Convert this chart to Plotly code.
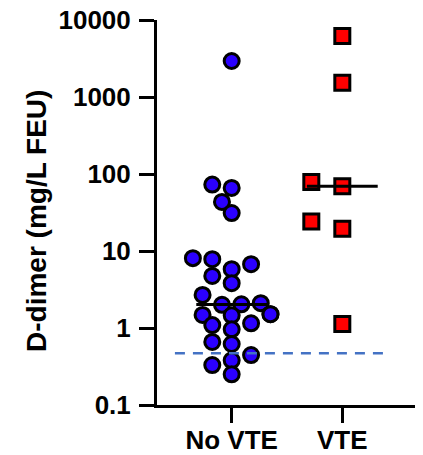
import numpy as np
import plotly.graph_objects as go

categories = ["No VTE", "VTE"]
no_vte = [2934, 72.8, 65.9, 43.4, 31.1, 8.08, 7.84, 6.75, 5.81, 4.75, 3.82, 2.69,
          2.1, 2.03, 2.0, 1.51, 1.51, 1.48, 1.46, 1.15, 1.09, 0.96, 0.66, 0.62,
          0.445, 0.38, 0.33, 0.25]
vte = [6210, 1535, 78.9, 69.2, 24.2, 19.5, 1.13]
cutoff = 0.47
ytick_vals = [0.1, 1, 10, 100, 1000, 10000]
ytick_text = ["0.1", "1", "10", "100", "1000", "10000"]
y_title = "D-dimer (mg/L FEU)"

W, H = 423, 455
ml, mr, mt, mb = 157, 8, 20, 50
xr = [-0.675, 1.657]
yr = [-1, 4]
px_x = (W - ml - mr) / (xr[1] - xr[0])
px_y = (H - mt - mb) / (yr[1] - yr[0])


def beeswarm(vals, center, step_px=9.7, min_px=14.0):
    order = np.argsort(vals)
    placed = []
    xs = np.zeros(len(vals))
    for i in order:
        y = np.log10(vals[i]) * px_y
        for k in [0, -1, 1, -2, 2, -3, 3, -4, 4]:
            x = k * step_px
            if all((x - px) ** 2 + (y - py) ** 2 >= min_px ** 2 for px, py in placed):
                break
        placed.append((x, y))
        xs[i] = center + x / px_x
    return xs


fig = go.Figure()

x0 = beeswarm(no_vte, 0)
x1 = beeswarm(vte, 1, step_px=15.5, min_px=18)

fig.add_trace(go.Scatter(x=x0, y=no_vte, mode="markers",
                         marker=dict(symbol="circle", size=15, color="#2B00FF",
                                     line=dict(color="black", width=3)),
                         showlegend=False, hoverinfo="skip"))
fig.add_trace(go.Scatter(x=x1, y=vte, mode="markers",
                         marker=dict(symbol="square", size=15, color="#FF0000",
                                     line=dict(color="black", width=3)),
                         showlegend=False, hoverinfo="skip"))

for c, vals in enumerate([no_vte, vte]):
    m = float(np.median(vals))
    fig.add_trace(go.Scatter(x=[c - 0.32, c + 0.32], y=[m, m], mode="lines",
                             line=dict(color="black", width=3), showlegend=False,
                             hoverinfo="skip"))

fig.add_trace(go.Scatter(x=[-0.513, 1.413], y=[cutoff, cutoff], mode="lines",
                         line=dict(color="#4472C4", width=2.5, dash="10px,8px"),
                         showlegend=False, hoverinfo="skip"))

font_family = "Liberation Sans, Arial, sans-serif"
fig.add_annotation(text=y_title, textangle=-90, xref="paper", yref="paper",
                   x=(37 - ml) / (W - ml - mr), y=0.478, xanchor="center",
                   yanchor="middle", showarrow=False,
                   font=dict(size=28, family=font_family, weight="bold",
                             color="black"))

fig.update_layout(
    width=W, height=H,
    margin=dict(l=ml, r=mr, t=mt, b=mb),
    plot_bgcolor="white", paper_bgcolor="white",
    font=dict(family=font_family, color="black"),
    xaxis=dict(range=xr, tickvals=[0, 1], ticktext=categories, automargin=False,
               showgrid=False, zeroline=False, showline=True, linecolor="black",
               linewidth=3, ticks="outside", ticklen=15, tickwidth=3,
               tickcolor="black", ticklabelstandoff=-5,
               tickfont=dict(size=26, family=font_family, weight="bold")),
    yaxis=dict(type="log", range=yr, tickvals=ytick_vals, ticktext=ytick_text,
               automargin=False,
               showgrid=False, zeroline=False, showline=True, linecolor="black",
               linewidth=3, ticks="outside", ticklen=15, tickwidth=3,
               tickcolor="black", ticklabelstandoff=3,
               tickfont=dict(size=26, family=font_family, weight="bold")),
)

fig.write_html("out.html", config={"displayModeBar": False},
               post_script="document.body.style.margin='0';document.body.style.overflow='hidden';")
